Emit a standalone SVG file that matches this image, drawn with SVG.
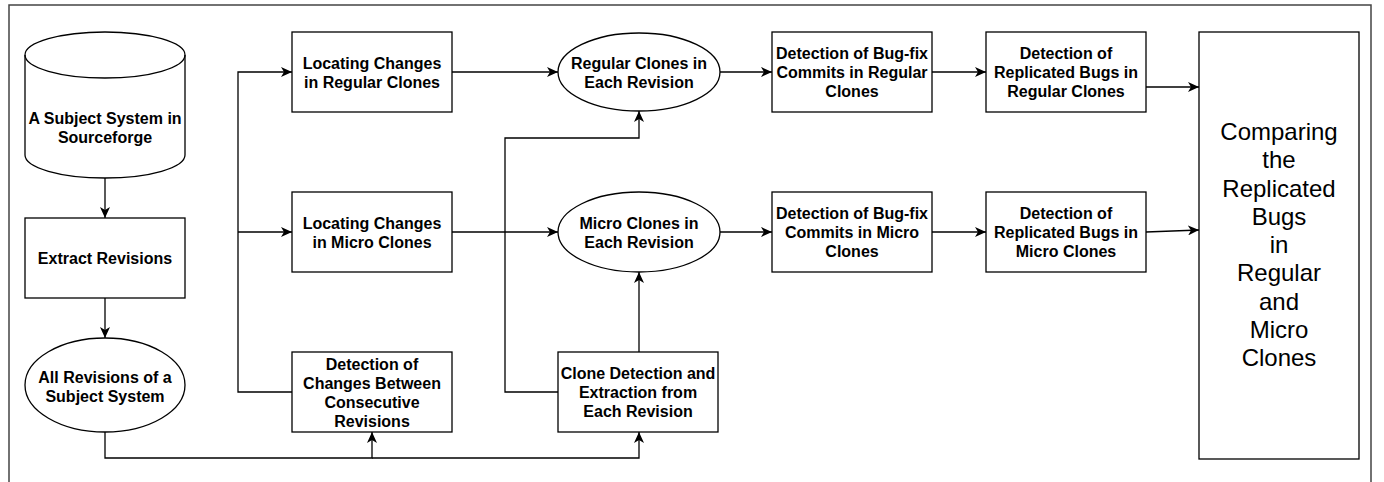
<svg xmlns="http://www.w3.org/2000/svg" width="1384" height="482" viewBox="0 0 1384 482">
<style>
.shape{fill:#fff;stroke:#000;stroke-width:1.3}
.edge{fill:none;stroke:#000;stroke-width:1.3}
.t{font-family:"Liberation Sans",Arial,sans-serif;font-size:16px;font-weight:bold;text-anchor:middle;fill:#000}
.big{font-family:"Liberation Sans",Arial,sans-serif;font-size:24px;text-anchor:middle;fill:#000}
.frame{fill:none;stroke:#444;stroke-width:1.5}
</style>
<defs>
<marker id="arr" viewBox="0 0 11 10" refX="11" refY="5" markerWidth="11" markerHeight="10" markerUnits="userSpaceOnUse" orient="auto">
<path d="M0,0 L11,5 L0,10 L3,5 Z" fill="#000"/>
</marker>
</defs>
<rect width="1384" height="482" fill="#fff"/>
<path class="frame" d="M9,482 V5 H1371 V482"/>
<g id="connectors">
<path class="edge" d="M105,178 V218" marker-end="url(#arr)"/>
<path class="edge" d="M105,298 V338" marker-end="url(#arr)"/>
<path class="edge" d="M105,432 V458 H372 V432" marker-end="url(#arr)"/>
<path class="edge" d="M372,458 H639 V432" marker-end="url(#arr)"/>
<path class="edge" d="M292,392 H238 V72 H292" marker-end="url(#arr)"/>
<path class="edge" d="M238,232 H292" marker-end="url(#arr)"/>
<path class="edge" d="M452,72 H558" marker-end="url(#arr)"/>
<path class="edge" d="M452,232 H558" marker-end="url(#arr)"/>
<path class="edge" d="M558,392 H505 V138 H639 V111" marker-end="url(#arr)"/>
<path class="edge" d="M639,352 V272" marker-end="url(#arr)"/>
<path class="edge" d="M720,72 H772" marker-end="url(#arr)"/>
<path class="edge" d="M720,232 H772" marker-end="url(#arr)"/>
<path class="edge" d="M932,72 H986" marker-end="url(#arr)"/>
<path class="edge" d="M932,232 H986" marker-end="url(#arr)"/>
<path class="edge" d="M1146,87 H1199" marker-end="url(#arr)"/>
<path class="edge" d="M1146,232 L1199,230" marker-end="url(#arr)"/>
</g>
<g id="subject-system">
<path class="shape" d="M25,55 A80,23 0 0 1 185,55 V155 A80,23 0 0 1 25,155 Z"/>
<path class="edge" d="M25,55 A80,23 0 0 0 185,55"/>
<text class="t" x="105" y="124">A Subject System in</text>
<text class="t" x="105" y="143">Sourceforge</text>
</g>
<g id="extract-revisions">
<rect class="shape" x="25" y="218" width="160" height="80"/>
<text class="t" x="105" y="264">Extract Revisions</text>
</g>
<g id="all-revisions">
<ellipse class="shape" cx="105" cy="385" rx="80" ry="47"/>
<text class="t" x="105" y="383">All Revisions of a</text>
<text class="t" x="105" y="402">Subject System</text>
</g>
<g id="detection-changes">
<rect class="shape" x="292" y="352" width="160" height="80"/>
<text class="t" x="372" y="370">Detection of</text>
<text class="t" x="372" y="389">Changes Between</text>
<text class="t" x="372" y="408">Consecutive</text>
<text class="t" x="372" y="427">Revisions</text>
</g>
<g id="locating-regular">
<rect class="shape" x="292" y="32" width="160" height="80"/>
<text class="t" x="372" y="68.5">Locating Changes</text>
<text class="t" x="372" y="87.5">in Regular Clones</text>
</g>
<g id="locating-micro">
<rect class="shape" x="292" y="192" width="160" height="80"/>
<text class="t" x="372" y="228.5">Locating Changes</text>
<text class="t" x="372" y="247.5">in Micro Clones</text>
</g>
<g id="regular-clones">
<ellipse class="shape" cx="639" cy="72" rx="81" ry="39"/>
<text class="t" x="639" y="68.5">Regular Clones in</text>
<text class="t" x="639" y="87.5">Each Revision</text>
</g>
<g id="micro-clones">
<ellipse class="shape" cx="639" cy="232" rx="81" ry="40"/>
<text class="t" x="639" y="228.5">Micro Clones in</text>
<text class="t" x="639" y="247.5">Each Revision</text>
</g>
<g id="clone-detection">
<rect class="shape" x="558" y="352" width="160" height="80"/>
<text class="t" x="638" y="379">Clone Detection and</text>
<text class="t" x="638" y="398">Extraction from</text>
<text class="t" x="638" y="417">Each Revision</text>
</g>
<g id="bugfix-regular">
<rect class="shape" x="772" y="32" width="160" height="80"/>
<text class="t" x="852" y="59">Detection of Bug-fix</text>
<text class="t" x="852" y="78">Commits in Regular</text>
<text class="t" x="852" y="97">Clones</text>
</g>
<g id="replicated-regular">
<rect class="shape" x="986" y="32" width="160" height="80"/>
<text class="t" x="1066" y="59">Detection of</text>
<text class="t" x="1066" y="78">Replicated Bugs in</text>
<text class="t" x="1066" y="97">Regular Clones</text>
</g>
<g id="bugfix-micro">
<rect class="shape" x="772" y="192" width="160" height="80"/>
<text class="t" x="852" y="219">Detection of Bug-fix</text>
<text class="t" x="852" y="238">Commits in Micro</text>
<text class="t" x="852" y="257">Clones</text>
</g>
<g id="replicated-micro">
<rect class="shape" x="986" y="192" width="160" height="80"/>
<text class="t" x="1066" y="219">Detection of</text>
<text class="t" x="1066" y="238">Replicated Bugs in</text>
<text class="t" x="1066" y="257">Micro Clones</text>
</g>
<g id="comparing">
<rect class="shape" x="1199" y="32" width="160" height="427"/>
<text class="big" x="1279" y="140">Comparing</text>
<text class="big" x="1279" y="168.3">the</text>
<text class="big" x="1279" y="196.5">Replicated</text>
<text class="big" x="1279" y="224.8">Bugs</text>
<text class="big" x="1279" y="253">in</text>
<text class="big" x="1279" y="281.3">Regular</text>
<text class="big" x="1279" y="309.5">and</text>
<text class="big" x="1279" y="337.8">Micro</text>
<text class="big" x="1279" y="366">Clones</text>
</g>
</svg>
